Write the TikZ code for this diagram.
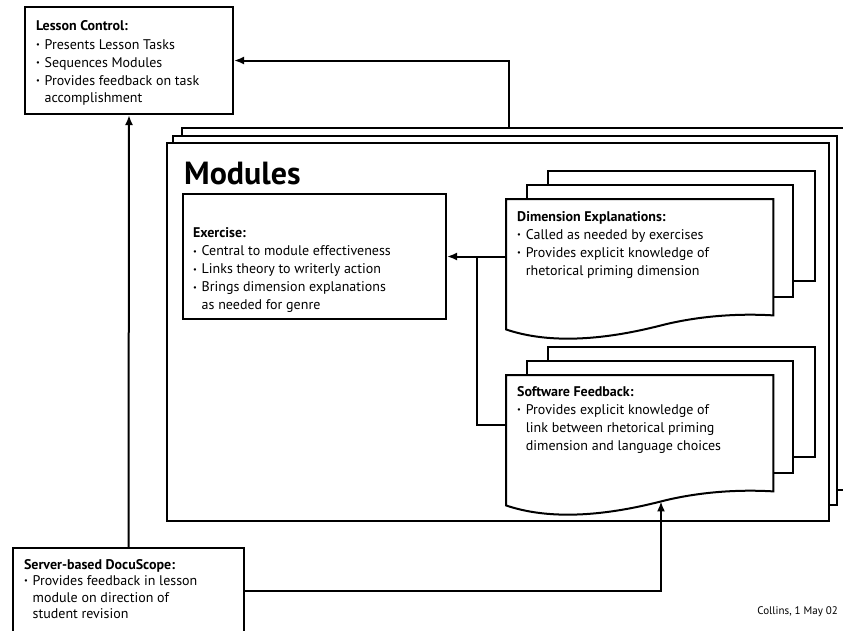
\documentclass[tikz,border=0pt]{standalone}
\usepackage{fontspec}
\setmainfont{PT Sans}
\usepackage{tikz}
\usetikzlibrary{arrows.meta, positioning, calc, backgrounds}

% small bullet and hanging indent for the item lists
\newcommand{\bul}{\makebox[0.62em][l]{\raisebox{0.12em}{\scalebox{0.6}{\textbullet}}}}
\newcommand{\hang}{\hspace*{0.62em}}
% width, height, left pad, top pad, text
\newcommand{\boxcontent}[5]{%
    \begin{minipage}[t][#2][t]{#1}\vspace*{#4}\raggedright\leftskip=#3\relax #5\par\end{minipage}}
% stacked sheets with a wavy bottom behind/around a text node
\newcommand{\docstack}[1]{%
    \draw[sheet] ($(#1.north west)+(42,-28)$) rectangle ($(#1.south east)+(42,-34)$);
    \draw[sheet] ($(#1.north west)+(21,-14)$) rectangle ($(#1.south east)+(20,-18)$);
    \draw[sheet] (#1.north west) -- (#1.north east) -- (#1.south east)
        .. controls ($(#1.south east)+(-33,-2)$) and ($(#1.south east)+(-73,0)$) .. ($(#1.south west)+(155,10)$)
        .. controls ($(#1.south west)+(85,28)$) and ($(#1.south west)+(35,26)$) .. ($(#1.south west)+(0,14)$)
        -- cycle;
    \coordinate (#1-in) at ($(#1.south west)+(155,10)$);
}

\begin{document}
\begin{tikzpicture}[
    x=1pt, y=-1pt,
    >={Latex[length=10pt, width=8pt]},
    font=\fontsize{14}{18}\selectfont,
    box/.style={
        draw=black,
        line width=2pt,
        fill=white,
        inner sep=0pt,
        anchor=north west
    },
    textonly/.style={
        inner sep=0pt,
        anchor=north west
    },
    sheet/.style={
        draw=black,
        line width=2pt,
        fill=white
    },
    link/.style={
        line width=2pt,
        black
    }
]

\clip (0,0) rectangle (843,630);

% =============== BOXES ===============

\node[box] (lesson) at (24,6) {\boxcontent{208pt}{107pt}{11pt}{14pt}{%
    {\bfseries Lesson Control:}\\
    \bul Presents Lesson Tasks\\
    \bul Sequences Modules\\
    \bul Provides feedback on task\\
    \hang accomplishment}};

\node[font=\fontsize{32}{36}\selectfont\bfseries, inner sep=0pt, anchor=base west] (modtitle) at (184,184) {Modules};

\node[box] (exercise) at (182,193) {\boxcontent{263pt}{125pt}{10pt}{34pt}{%
    {\bfseries Exercise:}\\
    \bul Central to module effectiveness\\
    \bul Links theory to writerly action\\
    \bul Brings dimension explanations\\
    \hang as needed for genre}};

\node[textonly] (dimexp) at (506,199) {\boxcontent{267pt}{116pt}{11pt}{12pt}{%
    {\bfseries Dimension Explanations:}\\
    \bul Called as needed by exercises\\
    \bul Provides explicit knowledge of\\
    \hang rhetorical priming dimension}};

\node[textonly] (softfb) at (506,375) {\boxcontent{267pt}{116pt}{11pt}{11pt}{%
    {\bfseries Software Feedback:}\\
    \bul Provides explicit knowledge of\\
    \hang link between rhetorical priming\\
    \hang dimension and language choices}};

\node[box, font=\fontsize{14}{16.5}\selectfont] (server) at (12,547) {\boxcontent{231pt}{85pt}{11pt}{11pt}{%
    {\bfseries Server-based DocuScope:}\\
    \bul Provides feedback in lesson\\
    \hang module on direction of\\
    \hang student revision}};

\node[font=\fontsize{11}{13}\selectfont, inner sep=0pt, anchor=east] (credit) at (838,612) {Collins, 1 May 02};

% =============== FRAMES (behind) ===============

\begin{scope}[on background layer]
    % module frames
    \draw[sheet] (182,128) rectangle (850,490);
    \draw[sheet] (173,136) rectangle (837,505);
    \draw[sheet] (167,143) rectangle (829,521);
    % sheet stacks
    \docstack{dimexp}
    \docstack{softfb}
\end{scope}

% =============== LINKS ===============

\coordinate (modtop) at (509,128);
\coordinate (jn) at ($(exercise.east)!0.5!(dimexp.west |- exercise.east)$);

\draw[link, ->] (modtop) |- (lesson.east);
\draw[link, ->] (server.north) -- (lesson.south);
\draw[link, ->] (dimexp.west |- exercise.east) -- (exercise.east);
\draw[link] (jn) |- ([yshift=8pt]softfb.west);
\draw[link, ->] (server.east) -| (softfb-in);

\end{tikzpicture}
\end{document}
